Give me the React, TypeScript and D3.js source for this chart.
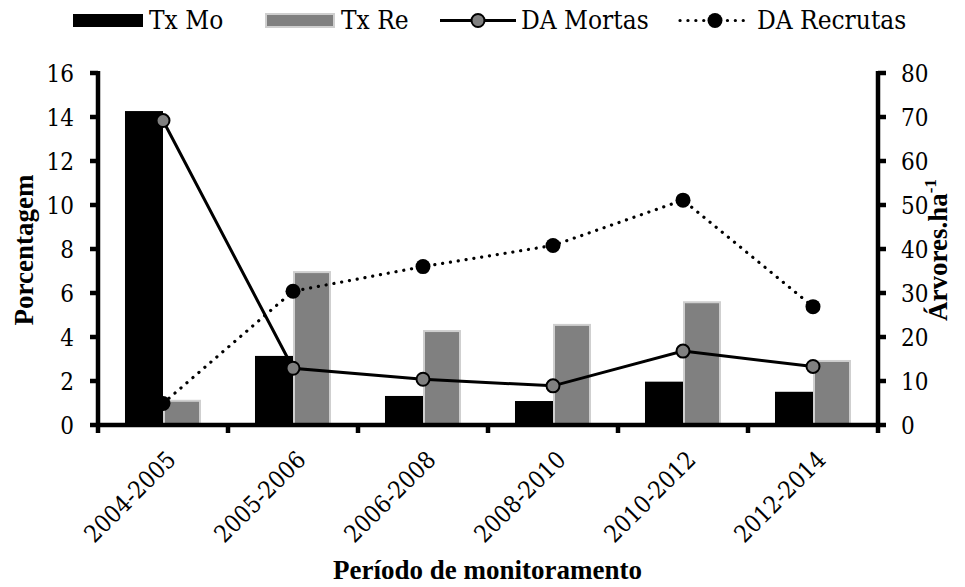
import React from "react";
import * as d3 from "d3";

const categories = ["2004-2005", "2005-2006", "2006-2008", "2008-2010", "2010-2012", "2012-2014"];
const barSeries = ["Tx Mo", "Tx Re"];
const txMo = [14.27, 3.14, 1.32, 1.09, 1.97, 1.51];
const txRe = [1.1, 6.95, 4.27, 4.55, 5.58, 2.91];
const daMortas = [69.2, 12.9, 10.4, 8.9, 16.8, 13.3];
const daRecrutas = [4.9, 30.4, 36.0, 40.8, 51.1, 26.9];
const leftTicks = [0, 2, 4, 6, 8, 10, 12, 14, 16];
const rightTicks = [0, 10, 20, 30, 40, 50, 60, 70, 80];

const FONT_B = "Liberation Serif, Times New Roman, serif";
const FONT_R = "DejaVu Serif Condensed, DejaVu Serif, serif";

export default function App() {
  const W = 965;
  const H = 587;
  const L = 98, R = 878, T = 73, B = 425;
  const x0 = d3.scaleBand<string>().domain(categories).range([L, R]);
  const x1 = d3
    .scaleBand<string>()
    .domain(barSeries)
    .range([0, x0.bandwidth()])
    .paddingInner(0)
    .paddingOuter(0.71);
  const yL = d3.scaleLinear().domain([0, 16]).range([B, T]);
  const yR = d3.scaleLinear().domain([0, 80]).range([B, T]);
  const cx = (i: number) => (x0(categories[i]) as number) + x0.bandwidth() / 2;

  const lineMortas = d3
    .line<number>()
    .x((_, i) => cx(i))
    .y((d) => yR(d))(daMortas) as string;
  const lineRecrutas = d3
    .line<number>()
    .x((_, i) => cx(i))
    .y((d) => yR(d))(daRecrutas) as string;

  const AX = 4.5;
  const fs = 27;
  const fr = 24;
  const fl = 26;
  const txt = { fontFamily: FONT_R, fontWeight: 400 as const };
  const bold = { fontFamily: FONT_B, fontWeight: 700 as const };

  return (
    <svg
      width={W}
      height={H}
      style={{ position: "absolute", left: 0, top: 0, background: "#fff" }}
    >
      <rect x={0} y={0} width={W} height={H} fill="#fff" />
      {categories.map((c, i) => (
        <g key={c}>
          <rect
            x={(x0(c) as number) + (x1("Tx Mo") as number)}
            y={yL(txMo[i])}
            width={x1.bandwidth()}
            height={B - yL(txMo[i])}
            fill="#000"
          />
          <rect
            x={(x0(c) as number) + (x1("Tx Re") as number) + 1}
            y={yL(txRe[i])}
            width={x1.bandwidth() - 2}
            height={B - yL(txRe[i])}
            fill="#808080"
            stroke="#cfcfcf"
            strokeWidth={2}
          />
        </g>
      ))}

      <g stroke="#000" strokeWidth={AX} fill="none">
        <line x1={L} y1={T - 2} x2={L} y2={B + 2} />
        <line x1={R} y1={T - 2} x2={R} y2={B + 2} />
        <line x1={L - 2} y1={B} x2={R + 2} y2={B} />
        {leftTicks.map((t) => (
          <line key={"lt" + t} x1={L - 8} x2={L} y1={yL(t)} y2={yL(t)} />
        ))}
        {rightTicks.map((t) => (
          <line key={"rt" + t} x1={R} x2={R + 8} y1={yR(t)} y2={yR(t)} />
        ))}
        {[...categories.map((c) => x0(c) as number), R].map((xv, i) => (
          <line key={"xt" + i} x1={xv} x2={xv} y1={B} y2={B + 8} />
        ))}
      </g>

      <g fontSize={fr} fill="#000">
        {leftTicks.map((t) => (
          <text key={"ll" + t} style={txt} x={L - 24} y={yL(t)} dy="0.36em" textAnchor="end">
            {t}
          </text>
        ))}
        {rightTicks.map((t) => (
          <text key={"rl" + t} style={txt} x={R + 23} y={yR(t)} dy="0.36em" textAnchor="start">
            {t}
          </text>
        ))}
        {categories.map((c, i) => (
          <text
            key={"cl" + c}
            style={txt}
            transform={`translate(${cx(i) + 2},${449}) rotate(-45)`}
            dy="0.72em"
            textAnchor="end"
          >
            {c}
          </text>
        ))}
      </g>

      <path d={lineMortas} fill="none" stroke="#000" strokeWidth={3} />
      <path
        d={lineRecrutas}
        fill="none"
        stroke="#000"
        strokeWidth={3.2}
        strokeDasharray="0.1 7.8"
        strokeLinecap="round"
      />
      {daMortas.map((d, i) => (
        <circle key={"mm" + i} cx={cx(i)} cy={yR(d)} r={6.5} fill="#808080" stroke="#000" strokeWidth={2} />
      ))}
      {daRecrutas.map((d, i) => (
        <circle key={"mr" + i} cx={cx(i)} cy={yR(d)} r={7.5} fill="#000" />
      ))}

      <text style={bold} transform={`translate(33,250) rotate(-90)`} textAnchor="middle" fontSize={fs}>
        Porcentagem
      </text>
      <text style={bold} transform={`translate(947,250) rotate(-90)`} textAnchor="middle" fontSize={fs}>
        Árvores.ha
        <tspan fontSize={17} dy={-11}>
          -1
        </tspan>
      </text>
      <text style={bold} x={487.5} y={579} textAnchor="middle" fontSize={fs}>
        Período de monitoramento
      </text>

      <g fontSize={fl}>
        <rect x={73} y={14} width={70} height={13} fill="#000" />
        <text style={txt} x={149} y={29}>{barSeries[0]}</text>
        <rect x={266} y={14} width={68} height={13} fill="#808080" stroke="#cfcfcf" strokeWidth={2} />
        <text style={txt} x={341} y={29}>{barSeries[1]}</text>
        <line x1={440} x2={516} y1={20.5} y2={20.5} stroke="#000" strokeWidth={3} />
        <circle cx={478} cy={20.5} r={6.5} fill="#808080" stroke="#000" strokeWidth={2} />
        <text style={txt} x={521} y={29}>DA Mortas</text>
        <line
          x1={680}
          x2={750}
          y1={20.5}
          y2={20.5}
          stroke="#000"
          strokeWidth={3.2}
          strokeDasharray="0.1 7.8"
          strokeLinecap="round"
        />
        <circle cx={715} cy={20.5} r={7.5} fill="#000" />
        <text style={txt} x={757} y={29}>DA Recrutas</text>
      </g>
    </svg>
  );
}
